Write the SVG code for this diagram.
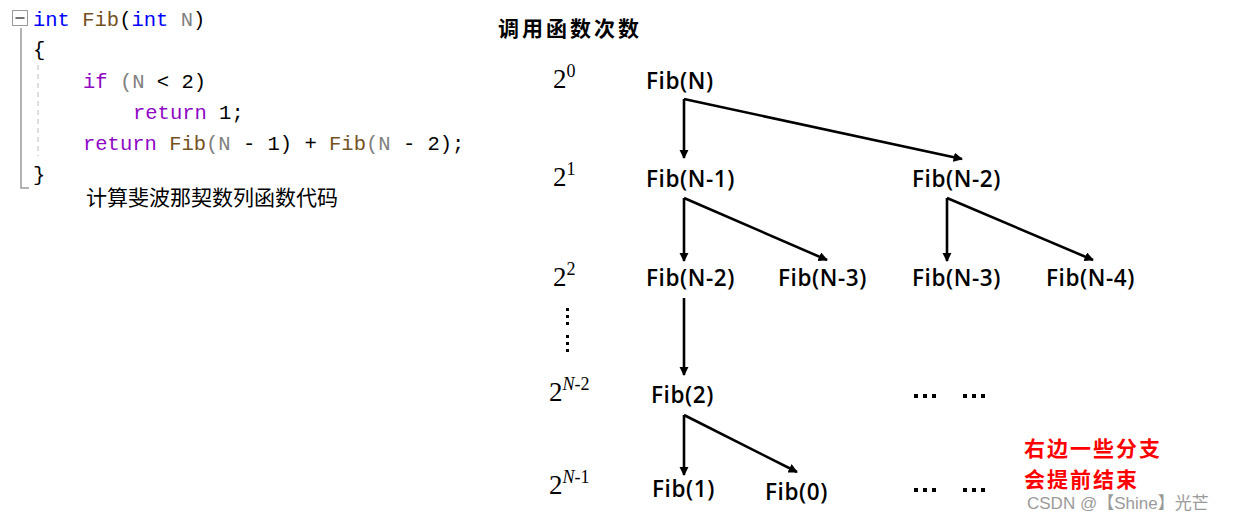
<svg xmlns="http://www.w3.org/2000/svg" width="1244" height="518" viewBox="0 0 1244 518">
<style>
.code{font-family:"Liberation Mono","DejaVu Sans Mono",monospace;font-size:20.5px;fill:#000}
.kw{fill:#0000ff}.fn{fill:#74531f}.pm{fill:#808080}.ct{fill:#8f08c4}
.cn{font-family:"Noto Sans CJK SC",sans-serif}
.node{font-family:"Open Sans","Noto Sans",sans-serif;font-weight:600;font-size:22.5px;letter-spacing:0.6px;fill:#000}
.pw{font-family:"Liberation Serif",serif;font-size:27px;fill:#000}
.sup{font-size:18px}
.it{font-style:italic}
.conn line{stroke:#000;stroke-width:2.6;fill:none}
</style>
<defs>
<marker id="ah" viewBox="0 0 10 10" refX="9" refY="5" markerWidth="3.6" markerHeight="3.6" orient="auto" markerUnits="strokeWidth">
<path d="M0,0 L10,5 L0,10 Z" fill="#000"/>
</marker>
</defs>
<rect width="1244" height="518" fill="#fff"/>

<g id="code">
<rect x="12.5" y="10.5" width="15" height="15" fill="#fff" stroke="#9a9a9a" stroke-width="1"/>
<line x1="15.5" y1="18" x2="24.5" y2="18" stroke="#444" stroke-width="1.5"/>
<polyline points="21,28 21,188 29,188" fill="none" stroke="#9a9a9a" stroke-width="1.5"/>
<line x1="38" y1="65" x2="38" y2="156" stroke="#c8c8c8" stroke-width="1.2" stroke-dasharray="5,4"/>
<text class="code" x="33" y="26"><tspan class="kw">int</tspan> <tspan class="fn">Fib</tspan>(<tspan class="kw">int</tspan> <tspan class="pm">N</tspan>)</text>
<text class="code" x="33" y="56">{</text>
<text class="code" x="83" y="88"><tspan class="ct">if</tspan> <tspan class="pm">(N</tspan> &lt; 2)</text>
<text class="code" x="133" y="119"><tspan class="ct">return</tspan> 1;</text>
<text class="code" x="83" y="150"><tspan class="ct">return</tspan> <tspan class="fn">Fib</tspan><tspan class="pm">(N</tspan> - 1) + <tspan class="fn">Fib</tspan><tspan class="pm">(N</tspan> - 2);</text>
<text class="code" x="33" y="181">}</text>
<text class="cn" x="86" y="205" font-size="21" fill="#000">计算斐波那契数列函数代码</text>
</g>

<g id="title"><text class="cn" x="498" y="36" font-size="21" font-weight="bold" letter-spacing="3" fill="#000">调用函数次数</text></g>

<g id="levels">
<text class="pw" x="553" y="88">2<tspan class="sup" dy="-11">0</tspan></text>
<text class="pw" x="553" y="186">2<tspan class="sup" dy="-11">1</tspan></text>
<text class="pw" x="553" y="286">2<tspan class="sup" dy="-11">2</tspan></text>
<text class="pw" x="549" y="401">2<tspan class="sup it" dy="-11">N</tspan><tspan class="sup">-2</tspan></text>
<text class="pw" x="549" y="494">2<tspan class="sup it" dy="-11">N</tspan><tspan class="sup">-1</tspan></text>
<g fill="#000">
<rect x="566" y="308" width="3" height="3"/><rect x="566" y="315" width="3" height="3"/><rect x="566" y="322" width="3" height="3"/>
<rect x="566" y="335" width="3" height="3"/><rect x="566" y="342" width="3" height="3"/><rect x="566" y="349" width="3" height="3"/>
</g>
</g>

<g id="n-fibN"><text class="node" x="646" y="89">Fib(N)</text></g>
<g id="n-fibN1"><text class="node" x="646" y="187">Fib(N-1)</text></g>
<g id="n-fibN2r"><text class="node" x="912" y="187">Fib(N-2)</text></g>
<g id="n-fibN2"><text class="node" x="646" y="286">Fib(N-2)</text></g>
<g id="n-fibN3a"><text class="node" x="778" y="286">Fib(N-3)</text></g>
<g id="n-fibN3b"><text class="node" x="912" y="286">Fib(N-3)</text></g>
<g id="n-fibN4"><text class="node" x="1046" y="286">Fib(N-4)</text></g>
<g id="n-fib2"><text class="node" x="651" y="403">Fib(2)</text></g>
<g id="n-fib1"><text class="node" x="652" y="497">Fib(1)</text></g>
<g id="n-fib0"><text class="node" x="765" y="500">Fib(0)</text></g>

<g id="ellipsis">
<g fill="#000">
<rect x="914" y="394" width="4" height="4"/><rect x="923" y="394" width="4" height="4"/><rect x="932" y="394" width="4" height="4"/>
<rect x="963" y="394" width="4" height="4"/><rect x="972" y="394" width="4" height="4"/><rect x="981" y="394" width="4" height="4"/>
<rect x="914" y="488" width="4" height="4"/><rect x="923" y="488" width="4" height="4"/><rect x="932" y="488" width="4" height="4"/>
<rect x="963" y="488" width="4" height="4"/><rect x="972" y="488" width="4" height="4"/><rect x="981" y="488" width="4" height="4"/>
</g>
</g>

<g id="note">
<text class="cn" font-size="21" font-weight="bold" letter-spacing="2" fill="#ff0000"><tspan x="1024" y="456">右边一些分支</tspan><tspan x="1024" y="487">会提前结束</tspan></text>
</g>

<g id="watermark"><text x="1027" y="509" font-family="Liberation Sans,Noto Sans CJK SC,sans-serif" font-size="17" fill="#9a9a9a">CSDN @【Shine】光芒</text></g>

<g class="conn" id="connectors">
<line x1="684" y1="99" x2="684" y2="158" marker-end="url(#ah)"/>
<line x1="684" y1="99" x2="962" y2="159" marker-end="url(#ah)"/>
<line x1="684" y1="198" x2="684" y2="261" marker-end="url(#ah)"/>
<line x1="684" y1="198" x2="827" y2="260" marker-end="url(#ah)"/>
<line x1="947" y1="198" x2="947" y2="261" marker-end="url(#ah)"/>
<line x1="947" y1="198" x2="1093" y2="260" marker-end="url(#ah)"/>
<line x1="684" y1="298" x2="684" y2="375" marker-end="url(#ah)"/>
<line x1="684" y1="415" x2="684" y2="475" marker-end="url(#ah)"/>
<line x1="684" y1="415" x2="797" y2="472" marker-end="url(#ah)"/>
</g>
</svg>
